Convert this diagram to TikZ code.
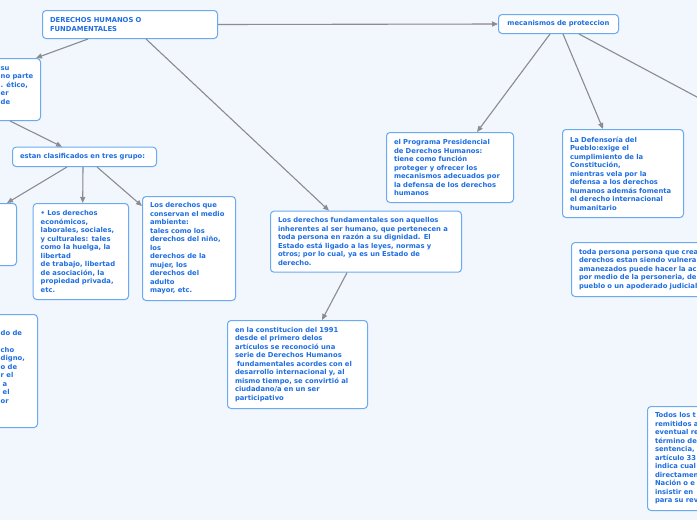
\documentclass[tikz,border=0pt]{standalone}
\usepackage{fontspec}
\setmainfont{DejaVu Sans}
\usepackage{xcolor}
\usepackage{tikz}
\usetikzlibrary{arrows.meta}
\definecolor{bgblue}{RGB}{242,246,253}
\definecolor{txtblue}{RGB}{30,110,225}
\definecolor{edgeblue}{RGB}{105,170,240}
\definecolor{linegray}{RGB}{140,140,145}
\begin{document}
\begin{tikzpicture}[x=1pt,y=-1pt,>={Triangle[length=6pt,width=5pt]}]
\tikzstyle{box}=[draw=edgeblue,fill=white,line width=1pt,rounded corners=3.5pt,anchor=north west,align=left,inner xsep=7.5pt,inner ysep=0pt,text=txtblue,font=\fontsize{6.8}{8.5}\selectfont\bfseries]
\tikzstyle{frag}=[anchor=west,align=left,inner sep=0pt,text=txtblue,font=\fontsize{6.8}{8.5}\selectfont\bfseries]
\tikzstyle{conn}=[->,draw=linegray,fill=linegray,line width=1.1pt]
\useasboundingbox (0,0) rectangle (697,520);
\clip (0,0) rectangle (697,520);
\fill[bgblue] (0,0) rectangle (697,520);
% boxes
\node[box,text width=160pt,minimum height=28pt] (main) at (42,10) {DERECHOS HUMANOS O\\FUNDAMENTALES};
\node[box,text width=105pt,minimum height=19pt,align=center] (mecan) at (498,14) {mecanismos de proteccion};
\node[box,anchor=north east,minimum width=80pt,minimum height=62pt] (lfta) at (41,58) {};
\node[frag] (fraga) at (0.5,85.5) {su\\no parte\\. ético,\\er\\de};
\node[box,text width=129pt,minimum height=19.3pt] (estan) at (12,146.7) {estan clasificados en tres grupo:};
\node[box,anchor=north east,minimum width=60pt,minimum height=62pt] (lftb) at (17,203) {};
\node[box,text width=80.3pt,minimum height=96pt] (econ) at (32.7,203) {• Los derechos\\económicos,\\laborales, sociales,\\y culturales: tales\\como la huelga, la\\libertad\\de trabajo, libertad\\de asociación, la\\propiedad privada,\\etc.};
\node[box,text width=78pt,minimum height=104pt] (amb) at (142,196) {Los derechos que\\conservan el medio\\ambiente:\\tales como los\\derechos del niño,\\los\\derechos de la\\mujer, los\\derechos del\\adulto\\mayor, etc.};
\node[box,text width=176pt,minimum height=61pt] (fund) at (270,210.7) {Los derechos fundamentales son aquellos\\inherentes al ser humano, que pertenecen a\\toda persona en razón a su dignidad. El\\Estado está ligado a las leyes, normas y\\otros; por lo cual, ya es un Estado de\\derecho.};
\node[box,text width=125pt,minimum height=88pt] (const) at (227,320) {en la constitucion del 1991\\desde el primero delos\\artículos se reconoció una\\serie de Derechos Humanos\\\hspace*{2pt}fundamentales acordes con el\\desarrollo internacional y, al\\mismo tiempo, se convirtió al\\ciudadano/a en un ser\\participativo};
\node[box,anchor=north east,minimum width=60pt,minimum height=113pt] (lftc) at (38,314) {};
\node[frag] (fragc) at (0.5,366.5) {do de\\\mbox{}\\cho\\digno,\\o de\\r el\\\hspace*{2pt}a\\\hspace*{2pt}el\\or};
\node[box,text width=112pt,minimum height=70pt] (prog) at (386,132) {el Programa Presidencial\\de Derechos Humanos:\\tiene como función\\proteger y ofrecer los\\mecanismos adecuados por\\la defensa de los derechos\\humanos};
\node[box,text width=106pt,minimum height=88pt] (def) at (562,129) {La Defensoría del\\Pueblo:exige el\\cumplimiento de la\\Constitución,\\mientras vela por la\\defensa a los derechos\\humanos además fomenta\\el derecho internacional\\humanitario};
\node[box,text width=185pt,minimum height=54pt] (toda) at (571,242) {toda persona persona que crea\\derechos estan siendo vulnera\\amanezados puede hacer la ac\\por medio de la personeria, de\\pueblo o un apoderado judicial};
\node[box,text width=135pt,minimum height=104pt] (todos) at (647,406) {Todos los t\\remitidos a\\eventual re\\término de\\sentencia,\\artículo 33\\indica cual\\directamen\\Nación o e\\insistir en\\para su rev};
\coordinate (offr) at (740,120);
% connectors
\draw[conn] (main.east) -- (mecan.west);
\draw[conn] ([xshift=46pt]main.south west) -- ([xshift=-5pt]lfta.north east);
\draw[conn] ([xshift=104pt]main.south west) -- ([xshift=59pt]fund.north west);
\draw[conn] ([xshift=-31pt]lfta.south east) -- ([xshift=50pt]estan.north west);
\draw[conn] ([xshift=55pt]estan.south west) -- ([xshift=-10pt]lftb.north east);
\draw[conn] ([xshift=71pt]estan.south west) -- ([xshift=50pt]econ.north west);
\draw[conn] ([xshift=85pt]estan.south west) -- ([yshift=-10pt]amb.north west);
\draw[conn] ([xshift=77pt]fund.south west) -- ([xshift=95pt]const.north west);
\draw[conn] ([xshift=52pt]mecan.south west) -- ([xshift=91pt]prog.north west);
\draw[conn] ([xshift=65pt]mecan.south west) -- ([xshift=41pt]def.north west);
\draw[conn] ([xshift=81pt]mecan.south west) -- (offr);
\end{tikzpicture}
\end{document}
